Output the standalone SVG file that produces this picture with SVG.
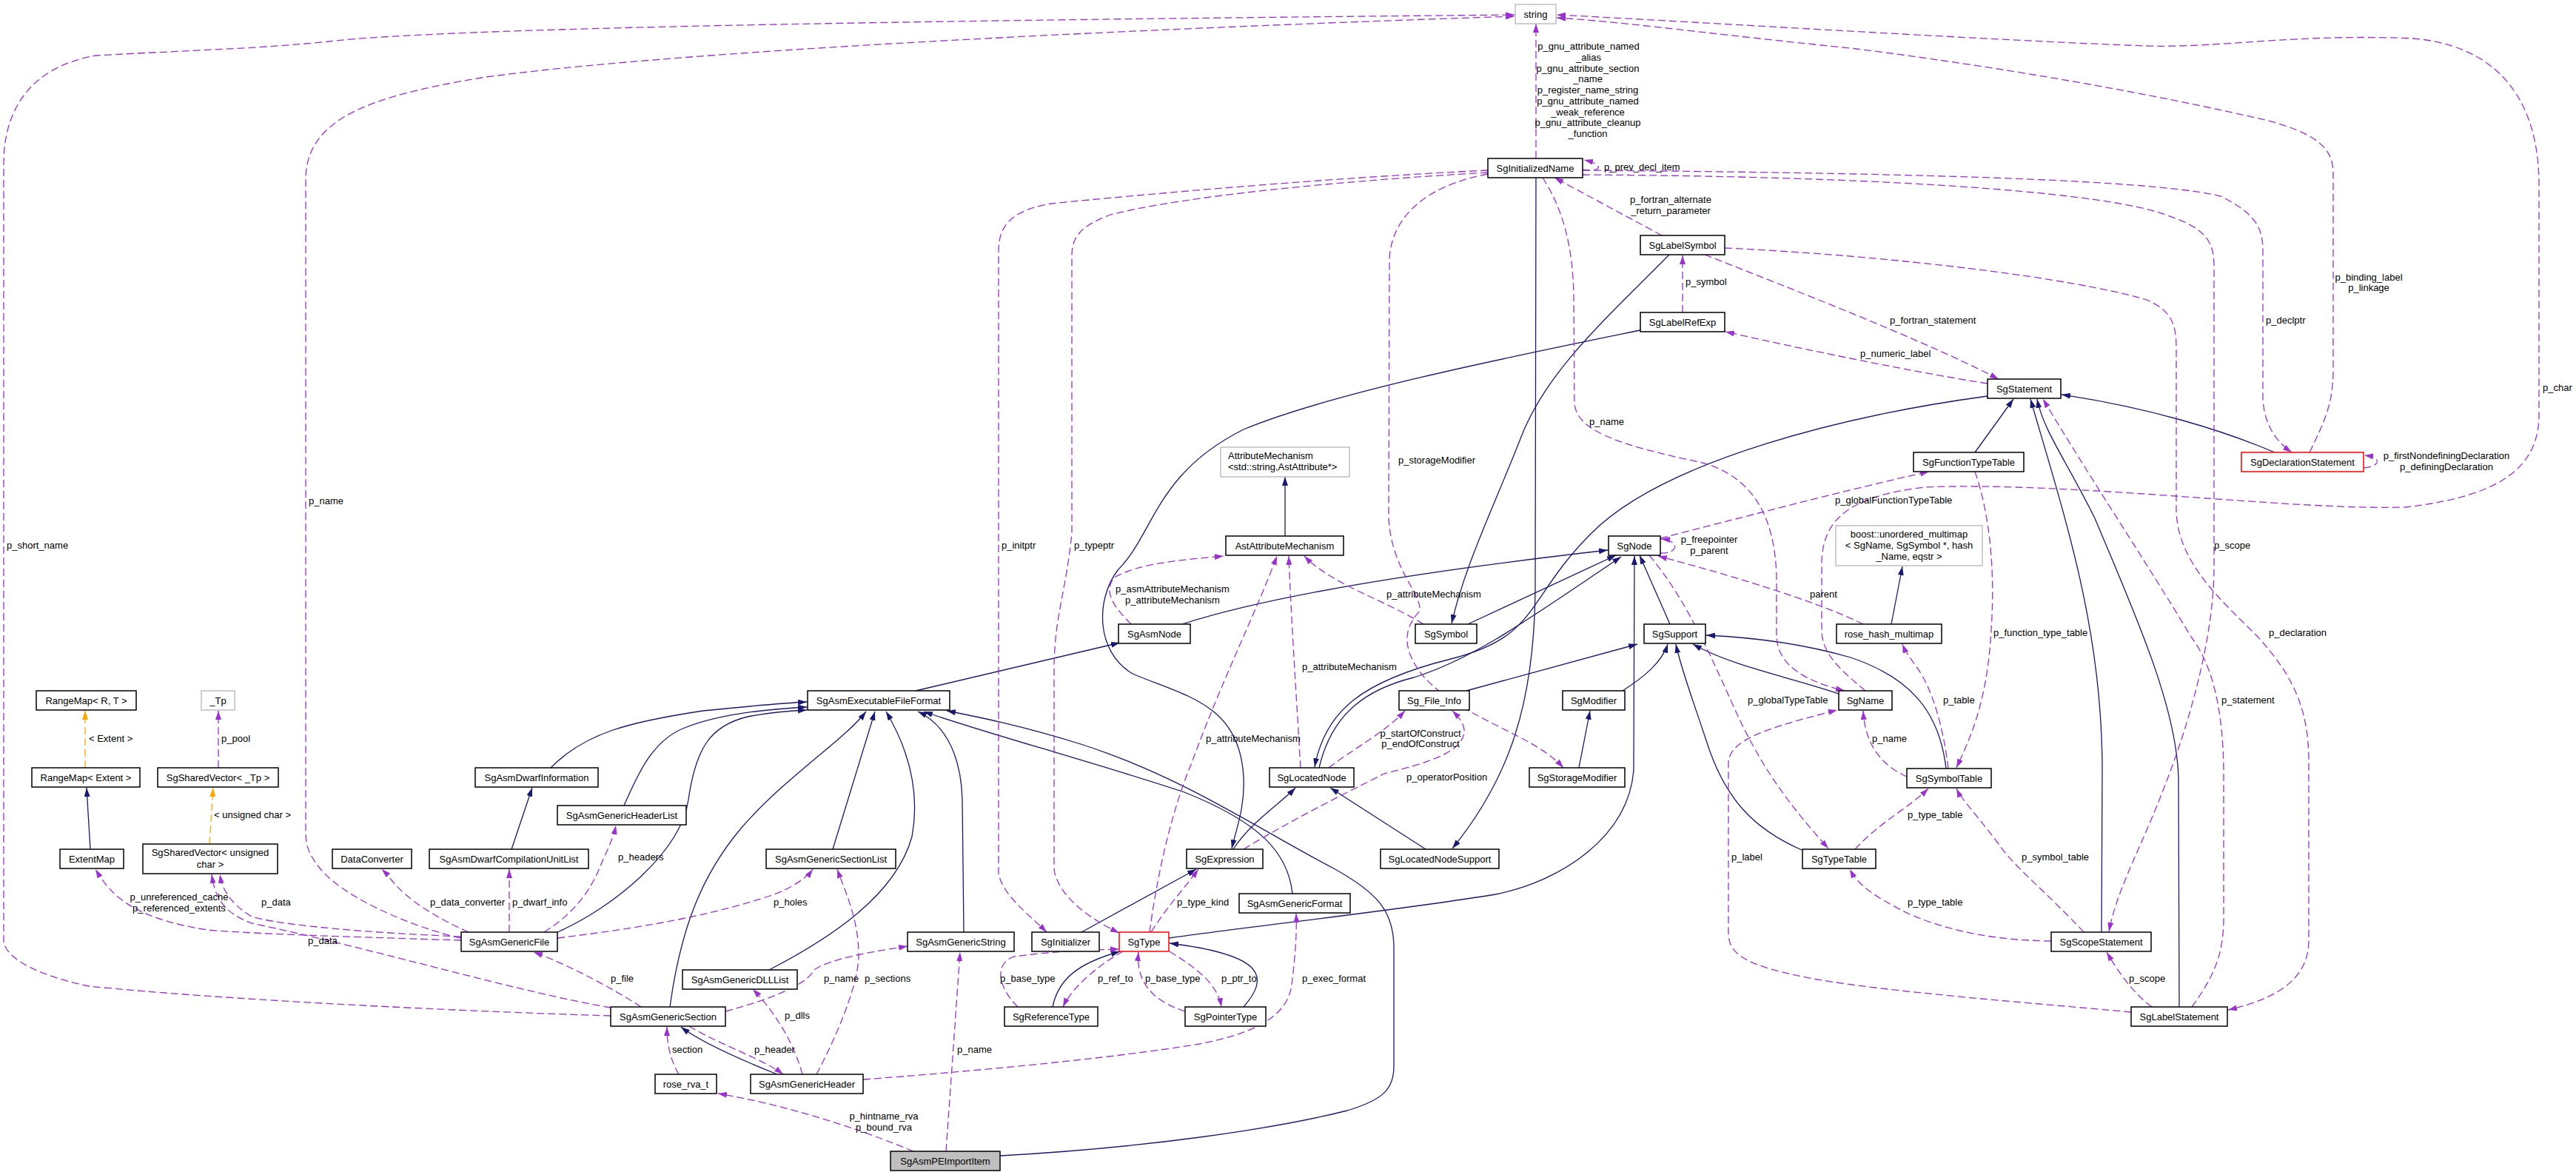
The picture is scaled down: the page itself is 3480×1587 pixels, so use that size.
<svg xmlns="http://www.w3.org/2000/svg" width="3480" height="1587" viewBox="0 0 3480 1587">
<style>
text{font-family:"Liberation Sans",Arial,sans-serif;font-size:13px;fill:#000}
.nd rect{fill:#fff;stroke:#000;stroke-width:1.5}
.nd.gr rect{stroke:#bfbfbf}
.nd.rd rect{stroke:#ff0000}
.nd.main rect{fill:#bfbfbf}
.nd text{text-anchor:middle}
.e{fill:none;stroke:#191970;stroke-width:1.3;marker-end:url(#an)}
.u{fill:none;stroke:#9a32cd;stroke-width:1.3;stroke-dasharray:10,5;marker-end:url(#ap)}
.o{fill:none;stroke:#ffa500;stroke-width:1.3;stroke-dasharray:10,5;marker-end:url(#ao)}
.c{text-anchor:middle}
</style>
<defs>
<marker id="an" viewBox="0 0 12 8" refX="12" refY="4" markerWidth="12" markerHeight="8" markerUnits="userSpaceOnUse" orient="auto"><path d="M0,0L12,4L0,8z" fill="#191970"/></marker>
<marker id="ap" viewBox="0 0 12 8" refX="12" refY="4" markerWidth="12" markerHeight="8" markerUnits="userSpaceOnUse" orient="auto"><path d="M0,0L12,4L0,8z" fill="#9a32cd"/></marker>
<marker id="ao" viewBox="0 0 12 8" refX="12" refY="4" markerWidth="12" markerHeight="8" markerUnits="userSpaceOnUse" orient="auto"><path d="M0,0L12,4L0,8z" fill="#ffa500"/></marker>
</defs>
<rect width="3480" height="1587" fill="#fff"/>
<g id="edges">
<path class="e" d="M1597,843 Q1760,790 2172,743"/>
<path class="e" d="M1237,933 L1513,868"/>
<path class="e" d="M1736,724 L1736,644"/>
<path class="e" d="M1983,843 L2183,750"/>
<path class="e" d="M1782,1037 C1800,960 1850,930 1910,915 C1990,890 2060,840 2190,752"/>
<path class="e" d="M2256,843 L2215,750"/>
<path class="e" d="M1579,1267 C1700,1250 1900,1228 2020,1208 C2110,1190 2200,1130 2207,1040 L2208,751"/>
<path class="e" d="M1926,1147 L1797,1064"/>
<path class="e" d="M2075,240 L2074,800 C2072,950 2040,1050 1962,1146"/>
<path class="e" d="M2685,535 C2500,560 2250,620 2150,720 C2060,810 2080,860 1960,890 C1840,920 1790,960 1776,1036"/>
<path class="e" d="M2255,344 C2170,430 2090,500 2055,590 C2020,680 1980,760 1961,842"/>
<path class="e" d="M2216,446 C2050,480 1800,530 1680,580 C1560,640 1560,720 1510,770 C1480,810 1480,880 1530,910 C1600,940 1675,950 1680,1050 C1682,1090 1670,1120 1664,1146"/>
<path class="e" d="M1461,1259 L1616,1174"/>
<path class="e" d="M1666,1147 C1690,1110 1730,1085 1750,1064"/>
<path class="e" d="M2668,611 L2720,539"/>
<path class="e" d="M2839,1259 L2840,1040 C2840,850 2790,700 2743,539"/>
<path class="e" d="M2944,1360 L2943,1050 C2940,950 2880,820 2830,700 C2790,620 2760,580 2752,539"/>
<path class="e" d="M3073,611 C3000,580 2900,550 2785,533"/>
<path class="e" d="M2629,1038 C2620,960 2580,915 2500,888 C2420,865 2350,860 2305,858"/>
<path class="e" d="M2434,1148 C2370,1120 2330,1080 2305,1000 C2285,940 2270,900 2264,870"/>
<path class="e" d="M2484,937 C2420,915 2340,900 2287,870"/>
<path class="e" d="M2192,933 C2220,915 2245,895 2253,870"/>
<path class="e" d="M1981,933 L2212,870"/>
<path class="e" d="M2133,1037 L2148,960"/>
<path class="e" d="M2555,843 L2570,765"/>
<path class="e" d="M691,1147 L719,1064"/>
<path class="e" d="M122,1147 L117,1064"/>
<path class="e" d="M744,1037 C790,990 850,975 950,960 C1000,955 1050,950 1090,948"/>
<path class="e" d="M843,1088 C860,1050 880,1000 925,983 C970,965 1030,958 1090,955"/>
<path class="e" d="M753,1259 C830,1225 920,1150 930,1080 C940,1010 960,980 1010,968 C1040,962 1070,960 1090,959"/>
<path class="e" d="M905,1360 C920,1250 950,1180 1000,1120 C1060,1050 1140,1000 1170,961"/>
<path class="e" d="M1125,1147 L1182,961"/>
<path class="e" d="M1039,1310 C1120,1268 1210,1210 1232,1130 C1245,1060 1220,1000 1197,961"/>
<path class="e" d="M1302,1259 L1300,1080 C1298,1010 1270,975 1240,961"/>
<path class="e" d="M1746,1207 C1740,1150 1700,1110 1600,1070 C1480,1030 1330,990 1248,961"/>
<path class="e" d="M1351,1561 C1550,1550 1720,1525 1820,1500 C1870,1485 1883,1470 1883,1440 L1883,1280 C1883,1230 1860,1205 1800,1172 C1700,1120 1600,1050 1460,1005 C1380,980 1320,968 1279,960"/>
<path class="e" d="M1050,1451 C1010,1435 950,1410 920,1387"/>
<path class="e" d="M1422,1360 C1430,1320 1460,1300 1513,1285"/>
<path class="e" d="M1680,1360 C1715,1320 1710,1290 1580,1274"/>
<path class="o" d="M115,1037 L115,960"/>
<path class="o" d="M283,1140 L288,1064"/>
<path class="u" d="M2075,214 L2075,32"/>
<path class="u" d="M2138,229 C2162,233 2170,223 2140,216"/>
<path class="u" d="M2245,318 L2100,240"/>
<path class="u" d="M2273,422 L2273,345"/>
<path class="u" d="M2685,518 C2600,505 2450,475 2331,448"/>
<path class="u" d="M2303,344 C2420,390 2600,460 2700,512"/>
<path class="u" d="M2330,335 C2550,345 2800,375 2900,405 C2935,420 2940,440 2940,470 L2940,690 C2942,760 3000,810 3050,860 C3100,915 3119,960 3119,1030 L3119,1270 C3119,1320 3080,1348 3010,1364"/>
<path class="u" d="M2138,230 C2500,233 2900,240 3000,265 C3050,290 3057,310 3057,340 L3057,540 C3060,580 3080,600 3096,611"/>
<path class="u" d="M2138,236 C2500,238 2800,255 2910,285 C2975,305 2991,320 2991,360 L2991,770 C2990,860 2960,970 2925,1060 C2895,1140 2860,1200 2849,1258"/>
<path class="u" d="M2961,1360 C2990,1320 3004,1290 3004,1240 L3004,1040 C3003,960 2990,900 2960,860 C2900,760 2820,640 2760,539"/>
<path class="u" d="M2520,933 C2480,900 2461,880 2461,850 L2461,760 C2462,700 2500,670 2600,658 C2800,650 3100,690 3250,685 C3380,670 3430,630 3430,560 L3430,250 C3430,120 3360,60 3260,52 C3100,45 3000,65 2900,62 C2700,55 2300,30 2103,20"/>
<path class="u" d="M3120,611 C3140,570 3152,545 3152,500 L3152,230 C3150,200 3130,180 3060,162 C2900,125 2700,90 2500,65 C2300,45 2200,30 2103,24"/>
<path class="u" d="M3193,632 C3215,630 3220,618 3194,615"/>
<path class="u" d="M2243,747 C2268,748 2270,730 2244,728"/>
<path class="u" d="M2243,727 C2350,700 2480,665 2606,637"/>
<path class="u" d="M2517,843 C2450,810 2330,775 2240,751"/>
<path class="u" d="M2228,750 C2270,800 2300,860 2340,950 C2380,1040 2420,1090 2470,1146"/>
<path class="u" d="M2668,637 C2690,700 2695,780 2690,850 C2685,950 2660,1000 2643,1037"/>
<path class="u" d="M2632,1038 C2625,980 2610,930 2590,902 C2580,888 2574,880 2570,870"/>
<path class="u" d="M2506,1147 C2540,1110 2580,1090 2605,1065"/>
<path class="u" d="M2815,1259 C2770,1210 2720,1170 2700,1140 C2670,1100 2650,1080 2643,1065"/>
<path class="u" d="M2771,1271 C2700,1270 2640,1260 2580,1235 C2530,1210 2510,1195 2499,1174"/>
<path class="u" d="M2907,1360 C2880,1340 2860,1310 2846,1286"/>
<path class="u" d="M2879,1367 C2750,1355 2550,1340 2450,1322 C2360,1305 2335,1290 2335,1260 L2335,1030 C2337,1000 2380,985 2482,959"/>
<path class="u" d="M2576,1049 C2545,1035 2520,1010 2517,960"/>
<path class="u" d="M2084,240 C2110,280 2125,330 2126,400 L2127,545 C2130,580 2180,600 2300,625 C2370,645 2398,700 2400,780 L2400,860 C2402,900 2440,920 2492,933"/>
<path class="u" d="M2010,235 C1930,250 1880,290 1877,350 L1876,700 C1880,770 1920,800 1918,825 C1900,845 1890,870 1920,910 C1970,970 2070,990 2112,1037"/>
<path class="u" d="M1923,843 C1870,810 1800,790 1762,751"/>
<path class="u" d="M1757,1037 C1752,950 1745,850 1741,751"/>
<path class="u" d="M1553,1259 C1565,1170 1585,1090 1610,1030 C1650,920 1700,820 1725,751"/>
<path class="u" d="M1528,843 C1505,820 1490,800 1505,780 C1540,760 1600,756 1653,751"/>
<path class="u" d="M1795,1037 C1830,1010 1870,990 1898,960"/>
<path class="u" d="M1680,1147 C1740,1110 1820,1070 1870,1045 C1930,1030 1980,1015 1978,985 C1976,975 1970,968 1962,960"/>
<path class="u" d="M1555,1259 C1580,1220 1600,1200 1619,1174"/>
<path class="u" d="M2010,230 C1800,240 1550,262 1420,275 C1360,285 1349,310 1349,340 L1349,1180 C1355,1210 1390,1235 1414,1259"/>
<path class="u" d="M2010,233 C1800,245 1600,265 1500,290 C1460,305 1448,320 1448,345 L1448,720 C1440,800 1425,830 1424,900 L1424,1175 C1430,1210 1470,1240 1512,1260"/>
<path class="u" d="M1375,1360 C1345,1330 1345,1300 1370,1292 C1420,1285 1470,1283 1512,1282"/>
<path class="u" d="M1517,1285 C1490,1300 1450,1330 1436,1360"/>
<path class="u" d="M1601,1366 C1550,1350 1535,1320 1538,1286"/>
<path class="u" d="M1580,1285 C1620,1310 1645,1330 1650,1360"/>
<path class="u" d="M1166,1458 C1300,1448 1500,1430 1620,1410 C1700,1395 1740,1370 1745,1330 C1750,1290 1752,1260 1751,1234"/>
<path class="u" d="M1278,1555 L1297,1286"/>
<path class="u" d="M1234,1555 C1150,1520 1050,1490 970,1477"/>
<path class="u" d="M917,1451 C905,1430 901,1410 901,1387"/>
<path class="u" d="M931,1386 C970,1410 1030,1430 1058,1451"/>
<path class="u" d="M1084,1451 C1070,1400 1040,1360 1017,1336"/>
<path class="u" d="M1103,1451 C1130,1400 1160,1330 1160,1290 C1160,1240 1140,1200 1131,1174"/>
<path class="u" d="M980,1366 C1040,1350 1090,1330 1100,1310 C1120,1295 1180,1285 1226,1278"/>
<path class="u" d="M866,1360 C820,1330 760,1300 721,1286"/>
<path class="u" d="M753,1267 C850,1255 950,1240 1040,1210 C1070,1200 1090,1185 1098,1174"/>
<path class="u" d="M735,1259 C780,1230 800,1200 815,1160 C825,1140 830,1125 832,1115"/>
<path class="u" d="M688,1259 L688,1174"/>
<path class="u" d="M633,1259 C590,1240 550,1215 530,1190 C522,1180 519,1177 516,1174"/>
<path class="u" d="M623,1265 C500,1260 380,1250 340,1238 C310,1220 300,1200 297,1181"/>
<path class="u" d="M825,1361 C700,1340 500,1280 340,1247 C300,1232 290,1210 286,1181"/>
<path class="u" d="M623,1270 C500,1266 350,1262 280,1256 C180,1240 150,1210 129,1174"/>
<path class="u" d="M825,1372 C600,1365 300,1350 120,1332 C40,1315 5,1290 5,1270 L5,220 C5,150 40,90 130,75 C250,68 350,66 444,56 C600,38 1200,28 2046,20"/>
<path class="u" d="M622,1267 C550,1250 460,1210 430,1170 C415,1150 413,1140 413,1120 L413,240 C415,160 500,130 650,105 C900,70 1500,40 2046,22"/>
<path class="u" d="M295,1037 L295,960"/>
</g>
<g id="labels">
<text class="c" x="2146" y="67">p_gnu_attribute_named</text>
<text class="c" x="2146" y="82">_alias</text>
<text class="c" x="2145" y="97">p_gnu_attribute_section</text>
<text class="c" x="2145" y="111">_name</text>
<text class="c" x="2145" y="126">p_register_name_string</text>
<text class="c" x="2145" y="141">p_gnu_attribute_named</text>
<text class="c" x="2145" y="156">_weak_reference</text>
<text class="c" x="2145" y="170">p_gnu_attribute_cleanup</text>
<text class="c" x="2145" y="185">_function</text>
<text x="2167" y="230">p_prev_decl_item</text>
<text class="c" x="2257" y="274">p_fortran_alternate</text>
<text class="c" x="2257" y="289">_return_parameter</text>
<text x="2277" y="385">p_symbol</text>
<text x="2553" y="437">p_fortran_statement</text>
<text x="2513" y="482">p_numeric_label</text>
<text class="c" x="3200" y="379">p_binding_label</text>
<text class="c" x="3200" y="393">p_linkage</text>
<text x="3061" y="437">p_declptr</text>
<text x="3435" y="528">p_char</text>
<text x="9" y="741">p_short_name</text>
<text x="417" y="681">p_name</text>
<text x="1353" y="741">p_initptr</text>
<text x="1451" y="741">p_typeptr</text>
<text class="c" x="1584" y="800">p_asmAttributeMechanism</text>
<text class="c" x="1584" y="815">p_attributeMechanism</text>
<text x="1889" y="626">p_storageModifier</text>
<text x="2147" y="574">p_name</text>
<text x="2479" y="680">p_globalFunctionTypeTable</text>
<text class="c" x="2309" y="733">p_freepointer</text>
<text class="c" x="2309" y="748">p_parent</text>
<text x="2445" y="807">parent</text>
<text x="1873" y="807">p_attributeMechanism</text>
<text x="1759" y="905">p_attributeMechanism</text>
<text x="1629" y="1002">p_attributeMechanism</text>
<text class="c" x="1919" y="995">p_startOfConstruct</text>
<text class="c" x="1919" y="1009">p_endOfConstruct</text>
<text x="2361" y="950">p_globalTypeTable</text>
<text x="2529" y="1002">p_name</text>
<text x="1900" y="1054">p_operatorPosition</text>
<text x="2991" y="741">p_scope</text>
<text x="2693" y="859">p_function_type_table</text>
<text x="3065" y="859">p_declaration</text>
<text x="2625" y="950">p_table</text>
<text x="3001" y="950">p_statement</text>
<text class="c" x="3305" y="620">p_firstNondefiningDeclaration</text>
<text class="c" x="3305" y="635">p_definingDeclaration</text>
<text x="120" y="1002">&lt; Extent &gt;</text>
<text x="299" y="1002">p_pool</text>
<text x="289" y="1105">&lt; unsigned char &gt;</text>
<text class="c" x="242" y="1216">p_unreferenced_cache</text>
<text class="c" x="242" y="1231">p_referenced_extents</text>
<text x="353" y="1223">p_data</text>
<text x="416" y="1275">p_data</text>
<text x="581" y="1223">p_data_converter</text>
<text x="692" y="1223">p_dwarf_info</text>
<text x="835" y="1162">p_headers</text>
<text x="825" y="1326">p_file</text>
<text x="1045" y="1223">p_holes</text>
<text x="1590" y="1223">p_type_kind</text>
<text x="1113" y="1326">p_name</text>
<text x="1168" y="1326">p_sections</text>
<text x="1351" y="1326">p_base_type</text>
<text x="1483" y="1326">p_ref_to</text>
<text x="1547" y="1326">p_base_type</text>
<text x="1650" y="1326">p_ptr_to</text>
<text x="1060" y="1376">p_dlls</text>
<text x="908" y="1422">section</text>
<text x="1019" y="1422">p_header</text>
<text x="1293" y="1422">p_name</text>
<text class="c" x="1194" y="1512">p_hintname_rva</text>
<text class="c" x="1194" y="1527">p_bound_rva</text>
<text x="1759" y="1326">p_exec_format</text>
<text x="2339" y="1162">p_label</text>
<text x="2577" y="1105">p_type_table</text>
<text x="2577" y="1223">p_type_table</text>
<text x="2731" y="1162">p_symbol_table</text>
<text x="2876" y="1326">p_scope</text>
</g>
<g id="n_string" class="nd gr"><rect x="2047" y="6" width="55" height="26"/><text x="2074.5" y="23.5">string</text></g>
<g id="n_SgInitializedName" class="nd"><rect x="2010" y="214" width="128" height="26"/><text x="2074" y="231.5">SgInitializedName</text></g>
<g id="n_SgLabelSymbol" class="nd"><rect x="2216" y="318" width="114" height="26"/><text x="2273" y="335.5">SgLabelSymbol</text></g>
<g id="n_SgLabelRefExp" class="nd"><rect x="2216" y="422" width="114" height="26"/><text x="2273" y="439.5">SgLabelRefExp</text></g>
<g id="n_SgStatement" class="nd"><rect x="2685" y="512" width="99" height="26"/><text x="2734.5" y="529.5">SgStatement</text></g>
<g id="n_SgFunctionTypeTable" class="nd"><rect x="2585" y="611" width="149" height="26"/><text x="2659.5" y="628.5">SgFunctionTypeTable</text></g>
<g id="n_SgDeclarationStatement" class="nd rd"><rect x="3028" y="611" width="165" height="26"/><text x="3110.5" y="628.5">SgDeclarationStatement</text></g>
<g id="n_AttributeMechanism" class="nd gr"><rect x="1649" y="604" width="174" height="40"/><text x="1659" y="620" style="text-anchor:start">AttributeMechanism</text><text x="1659" y="635" style="text-anchor:start">&lt;std::string,AstAttribute*&gt;</text></g>
<g id="n_AstAttributeMechanism" class="nd"><rect x="1656" y="724" width="159" height="26"/><text x="1735.5" y="741.5">AstAttributeMechanism</text></g>
<g id="n_SgNode" class="nd"><rect x="2173" y="724" width="70" height="26"/><text x="2208" y="741.5">SgNode</text></g>
<g id="n_boost_unordered_multimap" class="nd gr"><rect x="2480" y="710" width="198" height="54"/><text x="2579" y="726">boost::unordered_multimap</text><text x="2579" y="741">&lt; SgName, SgSymbol *, hash</text><text x="2579" y="756">_Name, eqstr &gt;</text></g>
<g id="n_rose_hash_multimap" class="nd"><rect x="2481" y="843" width="142" height="26"/><text x="2552" y="860.5">rose_hash_multimap</text></g>
<g id="n_SgSymbolTable" class="nd"><rect x="2576" y="1038" width="114" height="26"/><text x="2633" y="1055.5">SgSymbolTable</text></g>
<g id="n_SgAsmNode" class="nd"><rect x="1511" y="843" width="97" height="26"/><text x="1559.5" y="860.5">SgAsmNode</text></g>
<g id="n_SgSymbol" class="nd"><rect x="1912" y="843" width="83" height="26"/><text x="1953.5" y="860.5">SgSymbol</text></g>
<g id="n_SgSupport" class="nd"><rect x="2221" y="843" width="83" height="26"/><text x="2262.5" y="860.5">SgSupport</text></g>
<g id="n_SgAsmExecutableFileFormat" class="nd"><rect x="1091" y="933" width="192" height="26"/><text x="1187" y="950.5">SgAsmExecutableFileFormat</text></g>
<g id="n_Sg_File_Info" class="nd"><rect x="1890" y="933" width="95" height="26"/><text x="1937.5" y="950.5">Sg_File_Info</text></g>
<g id="n_SgModifier" class="nd"><rect x="2111" y="933" width="84" height="26"/><text x="2153" y="950.5">SgModifier</text></g>
<g id="n_SgName" class="nd"><rect x="2484" y="933" width="72" height="26"/><text x="2520" y="950.5">SgName</text></g>
<g id="n_RangeMap_R_T" class="nd"><rect x="49" y="933" width="135" height="26"/><text x="116.5" y="950.5">RangeMap&lt; R, T &gt;</text></g>
<g id="n_Tp" class="nd gr"><rect x="272" y="933" width="45" height="26"/><text x="294.5" y="950.5">_Tp</text></g>
<g id="n_RangeMap_Extent" class="nd"><rect x="43" y="1037" width="146" height="26"/><text x="116" y="1054.5">RangeMap&lt; Extent &gt;</text></g>
<g id="n_SgSharedVector_Tp" class="nd"><rect x="213" y="1037" width="163" height="26"/><text x="294.5" y="1054.5">SgSharedVector&lt; _Tp &gt;</text></g>
<g id="n_SgAsmDwarfInformation" class="nd"><rect x="642" y="1037" width="166" height="26"/><text x="725" y="1054.5">SgAsmDwarfInformation</text></g>
<g id="n_SgLocatedNode" class="nd"><rect x="1715" y="1037" width="114" height="26"/><text x="1772" y="1054.5">SgLocatedNode</text></g>
<g id="n_SgStorageModifier" class="nd"><rect x="2066" y="1037" width="129" height="26"/><text x="2130.5" y="1054.5">SgStorageModifier</text></g>
<g id="n_ExtentMap" class="nd"><rect x="81" y="1147" width="86" height="26"/><text x="124" y="1164.5">ExtentMap</text></g>
<g id="n_SgSharedVector_uchar" class="nd"><rect x="193" y="1140" width="182" height="40"/><text x="284" y="1156">SgSharedVector&lt; unsigned</text><text x="284" y="1171.5">char &gt;</text></g>
<g id="n_DataConverter" class="nd"><rect x="449" y="1147" width="107" height="26"/><text x="502.5" y="1164.5">DataConverter</text></g>
<g id="n_SgAsmDwarfCompilationUnitList" class="nd"><rect x="580" y="1147" width="215" height="26"/><text x="687.5" y="1164.5">SgAsmDwarfCompilationUnitList</text></g>
<g id="n_SgAsmGenericHeaderList" class="nd"><rect x="753" y="1088" width="174" height="26"/><text x="840" y="1105.5">SgAsmGenericHeaderList</text></g>
<g id="n_SgAsmGenericSectionList" class="nd"><rect x="1035" y="1147" width="175" height="26"/><text x="1122.5" y="1164.5">SgAsmGenericSectionList</text></g>
<g id="n_SgExpression" class="nd"><rect x="1603" y="1147" width="103" height="26"/><text x="1654.5" y="1164.5">SgExpression</text></g>
<g id="n_SgLocatedNodeSupport" class="nd"><rect x="1865" y="1147" width="160" height="26"/><text x="1945" y="1164.5">SgLocatedNodeSupport</text></g>
<g id="n_SgTypeTable" class="nd"><rect x="2435" y="1147" width="99" height="26"/><text x="2484.5" y="1164.5">SgTypeTable</text></g>
<g id="n_SgAsmGenericFormat" class="nd"><rect x="1674" y="1207" width="150" height="26"/><text x="1749" y="1224.5">SgAsmGenericFormat</text></g>
<g id="n_SgAsmGenericFile" class="nd"><rect x="623" y="1259" width="130" height="26"/><text x="688" y="1276.5">SgAsmGenericFile</text></g>
<g id="n_SgAsmGenericString" class="nd"><rect x="1226" y="1259" width="144" height="26"/><text x="1298" y="1276.5">SgAsmGenericString</text></g>
<g id="n_SgInitializer" class="nd"><rect x="1394" y="1259" width="91" height="26"/><text x="1439.5" y="1276.5">SgInitializer</text></g>
<g id="n_SgType" class="nd rd"><rect x="1512" y="1259" width="67" height="26"/><text x="1545.5" y="1276.5">SgType</text></g>
<g id="n_SgScopeStatement" class="nd"><rect x="2771" y="1259" width="135" height="26"/><text x="2838.5" y="1276.5">SgScopeStatement</text></g>
<g id="n_SgAsmGenericDLLList" class="nd"><rect x="922" y="1310" width="155" height="26"/><text x="999.5" y="1327.5">SgAsmGenericDLLList</text></g>
<g id="n_SgAsmGenericSection" class="nd"><rect x="825" y="1360" width="155" height="26"/><text x="902.5" y="1377.5">SgAsmGenericSection</text></g>
<g id="n_SgReferenceType" class="nd"><rect x="1357" y="1360" width="126" height="26"/><text x="1420" y="1377.5">SgReferenceType</text></g>
<g id="n_SgPointerType" class="nd"><rect x="1601" y="1360" width="109" height="26"/><text x="1655.5" y="1377.5">SgPointerType</text></g>
<g id="n_SgLabelStatement" class="nd"><rect x="2879" y="1360" width="130" height="26"/><text x="2944" y="1377.5">SgLabelStatement</text></g>
<g id="n_rose_rva_t" class="nd"><rect x="885" y="1451" width="83" height="26"/><text x="926.5" y="1468.5">rose_rva_t</text></g>
<g id="n_SgAsmGenericHeader" class="nd"><rect x="1014" y="1451" width="152" height="26"/><text x="1090" y="1468.5">SgAsmGenericHeader</text></g>
<g id="n_SgAsmPEImportItem" class="nd main"><rect x="1203" y="1555" width="148" height="26"/><text x="1277" y="1572.5">SgAsmPEImportItem</text></g>
</svg>
